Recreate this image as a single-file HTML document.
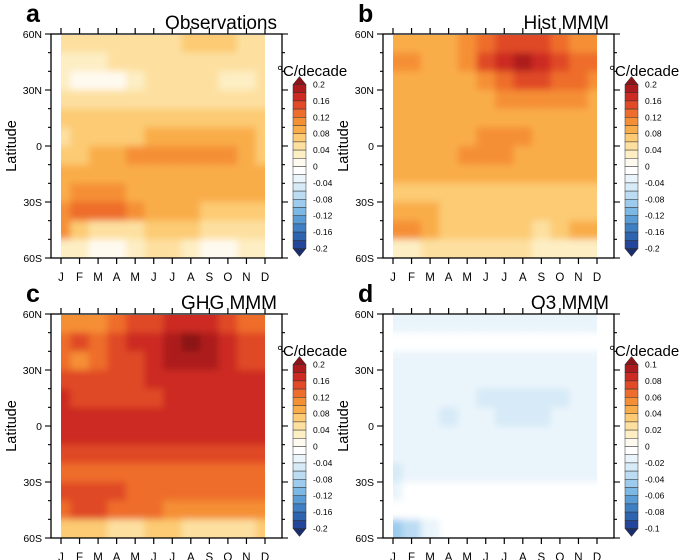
<!DOCTYPE html>
<html><head><meta charset="utf-8"><style>
html,body{margin:0;padding:0;background:#fff;}
svg{display:block;font-family:"Liberation Sans",sans-serif;}
</style></head><body>
<svg id="fig" width="685" height="560" viewBox="0 0 685 560" xmlns="http://www.w3.org/2000/svg">
<defs>
<filter id="soft" x="0" y="0" width="1" height="1"><feGaussianBlur stdDeviation="3.5" edgeMode="duplicate"/></filter>
<clipPath id="dataclip"><rect x="61" y="35" width="204" height="223"/></clipPath>
</defs>
</svg>
<script>
const months=["J","F","M","A","M","J","J","A","S","O","N","D"];
const lats=[55,45,35,25,15,5,-5,-15,-25,-35,-45,-55];
const latTicks=["60N","30N","0","30S","60S"];
const cbLabelsMain=["0.2","0.16","0.12","0.08","0.04","0","-0.04","-0.08","-0.12","-0.16","-0.2"];
const cbLabelsO3=["0.1","0.08","0.06","0.04","0.02","0","-0.02","-0.04","-0.06","-0.08","-0.1"];
const obsValues=[
[0.04,0.04,0.04,0.04,0.05,0.05,0.05,0.07,0.07,0.06,0.05,0.05],
[0.03,0.03,0.03,0.04,0.05,0.05,0.05,0.05,0.05,0.04,0.05,0.05],
[0.03,0.01,0.01,0.01,0.03,0.05,0.05,0.05,0.05,0.03,0.03,0.04],
[0.05,0.05,0.05,0.05,0.05,0.05,0.05,0.05,0.05,0.05,0.05,0.05],
[0.07,0.07,0.07,0.07,0.07,0.07,0.07,0.07,0.07,0.07,0.07,0.07],
[0.05,0.07,0.07,0.07,0.07,0.09,0.09,0.09,0.09,0.09,0.09,0.07],
[0.07,0.07,0.09,0.09,0.11,0.11,0.11,0.11,0.11,0.11,0.09,0.07],
[0.09,0.09,0.09,0.09,0.09,0.09,0.09,0.09,0.09,0.09,0.09,0.09],
[0.09,0.11,0.11,0.11,0.09,0.09,0.09,0.09,0.09,0.09,0.09,0.09],
[0.11,0.13,0.13,0.13,0.11,0.09,0.09,0.09,0.07,0.07,0.07,0.07],
[0.11,0.07,0.05,0.05,0.05,0.07,0.07,0.07,0.05,0.05,0.05,0.05],
[0.03,0.03,0.01,0.01,0.03,0.05,0.05,0.03,0.01,0.01,0.03,0.03]];
const histValues=[
[0.09,0.09,0.09,0.09,0.11,0.13,0.15,0.15,0.15,0.13,0.11,0.11],
[0.11,0.11,0.09,0.09,0.11,0.15,0.17,0.19,0.17,0.15,0.13,0.13],
[0.09,0.09,0.09,0.09,0.09,0.11,0.13,0.15,0.15,0.13,0.13,0.11],
[0.09,0.09,0.09,0.09,0.09,0.09,0.11,0.11,0.11,0.11,0.11,0.09],
[0.09,0.09,0.09,0.09,0.09,0.09,0.09,0.09,0.09,0.09,0.09,0.09],
[0.09,0.09,0.09,0.09,0.09,0.11,0.11,0.11,0.09,0.09,0.09,0.09],
[0.09,0.09,0.09,0.09,0.11,0.11,0.11,0.09,0.09,0.09,0.09,0.09],
[0.09,0.09,0.09,0.09,0.09,0.09,0.09,0.09,0.09,0.09,0.09,0.09],
[0.07,0.07,0.07,0.07,0.07,0.07,0.07,0.07,0.07,0.07,0.07,0.07],
[0.09,0.09,0.09,0.07,0.07,0.07,0.07,0.07,0.07,0.07,0.07,0.07],
[0.11,0.11,0.09,0.07,0.07,0.07,0.07,0.07,0.05,0.07,0.09,0.09],
[0.03,0.03,0.05,0.05,0.05,0.05,0.05,0.05,0.03,0.03,0.03,0.03]];
const ghgValues=[
[0.11,0.11,0.11,0.13,0.15,0.15,0.17,0.17,0.17,0.15,0.13,0.13],
[0.13,0.15,0.13,0.15,0.17,0.17,0.19,0.21,0.19,0.17,0.15,0.15],
[0.13,0.11,0.13,0.15,0.15,0.17,0.19,0.19,0.19,0.17,0.15,0.15],
[0.15,0.15,0.15,0.15,0.15,0.17,0.17,0.17,0.17,0.17,0.17,0.17],
[0.17,0.15,0.15,0.15,0.15,0.15,0.17,0.17,0.17,0.17,0.17,0.17],
[0.17,0.17,0.17,0.17,0.17,0.17,0.17,0.17,0.17,0.17,0.17,0.17],
[0.17,0.17,0.17,0.17,0.17,0.17,0.17,0.17,0.17,0.17,0.17,0.17],
[0.15,0.15,0.15,0.15,0.15,0.15,0.15,0.15,0.15,0.15,0.15,0.15],
[0.13,0.13,0.13,0.13,0.13,0.13,0.13,0.13,0.13,0.13,0.13,0.13],
[0.15,0.15,0.15,0.15,0.13,0.13,0.13,0.13,0.13,0.13,0.13,0.13],
[0.13,0.15,0.15,0.13,0.13,0.13,0.11,0.11,0.11,0.11,0.11,0.11],
[0.07,0.07,0.07,0.05,0.05,0.07,0.07,0.05,0.05,0.05,0.05,0.07]];
const o3Values=[
[-0.015,-0.015,-0.015,-0.015,-0.015,-0.015,-0.015,-0.015,-0.015,-0.015,-0.015,-0.015],
[-0.005,-0.005,-0.005,-0.005,-0.005,-0.005,-0.005,-0.005,-0.005,-0.005,-0.005,-0.005],
[-0.015,-0.015,-0.015,-0.015,-0.015,-0.015,-0.015,-0.015,-0.015,-0.015,-0.015,-0.015],
[-0.015,-0.015,-0.015,-0.015,-0.015,-0.015,-0.015,-0.015,-0.015,-0.015,-0.015,-0.015],
[-0.015,-0.015,-0.015,-0.015,-0.015,-0.025,-0.025,-0.025,-0.025,-0.025,-0.015,-0.015],
[-0.015,-0.015,-0.015,-0.025,-0.015,-0.015,-0.025,-0.025,-0.025,-0.015,-0.015,-0.015],
[-0.015,-0.015,-0.015,-0.015,-0.015,-0.015,-0.015,-0.015,-0.015,-0.015,-0.015,-0.015],
[-0.015,-0.015,-0.015,-0.015,-0.015,-0.015,-0.015,-0.015,-0.015,-0.015,-0.015,-0.015],
[-0.025,-0.015,-0.015,-0.015,-0.015,-0.015,-0.015,-0.015,-0.015,-0.015,-0.015,-0.015],
[-0.015,-0.005,-0.005,-0.005,-0.005,-0.005,-0.005,-0.005,-0.005,-0.005,-0.005,-0.005],
[-0.005,-0.005,-0.005,-0.005,-0.005,-0.005,-0.005,-0.005,-0.005,-0.005,-0.005,-0.005],
[-0.045,-0.035,-0.015,-0.005,-0.005,-0.005,-0.005,-0.005,-0.005,-0.005,-0.005,-0.005]];

const colors=["#1a2e6e","#24469a","#2e63b0","#3f80c4","#5a9dd6","#7cb8e4","#9ccbee","#bbdcf3","#d6eaf7","#eaf4fb","#ffffff",
"#fffaf0","#fdeec4","#fde0a0","#fccb73","#f9ad4a","#f58f36","#ee6d2c","#e04a26","#cc2a22","#ad1a1e","#8a1418"];
const NS="http://www.w3.org/2000/svg";
const svg=document.getElementById("fig");
function mk(tag,attrs,parent){const e=document.createElementNS(NS,tag);for(const k in attrs)e.setAttribute(k,attrs[k]);(parent||svg).appendChild(e);return e;}
function colorFor(v,step){let i=Math.floor(v/step+1e-9)+11;return colors[Math.max(0,Math.min(21,i))];}

const panels=[
 {letter:"a",title:"Observations",vals:obsValues,step:0.02,cb:cbLabelsMain,dx:0,dy:0,name:"observations"},
 {letter:"b",title:"Hist MMM",vals:histValues,step:0.02,cb:cbLabelsMain,dx:332,dy:0,name:"hist-mmm"},
 {letter:"c",title:"GHG MMM",vals:ghgValues,step:0.02,cb:cbLabelsMain,dx:0,dy:280,name:"ghg-mmm"},
 {letter:"d",title:"O3 MMM",vals:o3Values,step:0.01,cb:cbLabelsO3,dx:332,dy:280,name:"o3-mmm"}];

panels.forEach(p=>{
 const g=mk("g",{transform:`translate(${p.dx},${p.dy})`});
 
 
 const x=m=>61+m*(204/11);
 const y=lat=>146-lat*(112/60);
 const clipG=mk("g",{"clip-path":"url(#dataclip)"},g);
 const cells=mk("g",{filter:"url(#soft)"},clipG);
 
 
 p.vals.forEach((row,r)=>{row.forEach((v,c)=>{
   const x0=x(c-0.5),x1=x(c+0.5);
   let y0=y(lats[r]+5),y1=y(lats[r]-5);
   if(r===0)y0-=8; if(r===lats.length-1)y1+=8;
   const ex0=c===0?x0-8:x0, ex1=c===11?x1+8:x1;
   const rc=mk("rect",{x:ex0,y:y0,width:ex1-ex0+0.6,height:y1-y0+0.6,fill:colorFor(v,p.step)},cells);
   
   
 });});
 const fr=mk("rect",{x:51,y:34,width:231,height:224,fill:"none",stroke:"#000","stroke-width":1.3},g);
 
 
 months.forEach((m,i)=>{
   mk("line",{x1:x(i),x2:x(i),y1:34,y2:28,stroke:"#000","stroke-width":1.2},g);
   mk("line",{x1:x(i),x2:x(i),y1:258,y2:264,stroke:"#000","stroke-width":1.2},g);
   const t=mk("text",{x:x(i),y:281,"font-size":11.5,"text-anchor":"middle"},g);t.textContent=m;
   
   
 });
 for(let lat=60;lat>=-60;lat-=10){
   const major=lat%30===0;const L=major?6:3;
   mk("line",{x1:51,x2:51-L,y1:y(lat),y2:y(lat),stroke:"#000","stroke-width":1.1},g);
   mk("line",{x1:282,x2:282+L,y1:y(lat),y2:y(lat),stroke:"#000","stroke-width":1.1},g);
 }
 latTicks.forEach((lb,i)=>{
   const t=mk("text",{x:42,y:y(60-30*i)+4,"font-size":10.5,"text-anchor":"end"},g);t.textContent=lb;
   
   
 });
 const yl=mk("text",{x:16,y:146,"font-size":14.5,"text-anchor":"middle",transform:"rotate(-90 16 146)"},g);yl.textContent="Latitude";
 
 
 const lt=mk("text",{x:26,y:22,"font-size":25,"font-weight":"bold"},g);lt.textContent=p.letter;
 
 
 const tt=mk("text",{x:277,y:29,"font-size":19,"text-anchor":"end"},g);tt.textContent=p.title;
 
 
 const ut=mk("text",{x:277,y:76,"font-size":15},g);ut.textContent="°C/decade";
 
 
 const cb=mk("g",{},g);
 
 
 const top=84.5,bh=8.2,cx0=293,cw=13;
 for(let k=0;k<20;k++){
   const ci=20-k;
   mk("rect",{x:cx0,y:top+k*bh,width:cw,height:bh,fill:colors[ci],stroke:"#333","stroke-width":0.5},cb);
 }
 mk("polygon",{points:`${cx0},${top} ${cx0+cw},${top} ${cx0+cw/2},${top-8}`,fill:colors[21],stroke:"#333","stroke-width":0.5},cb);
 const bot=top+20*bh;
 mk("polygon",{points:`${cx0},${bot} ${cx0+cw},${bot} ${cx0+cw/2},${bot+8}`,fill:colors[0],stroke:"#333","stroke-width":0.5},cb);
 p.cb.forEach((lb,i)=>{
   const t=mk("text",{x:313,y:top+i*2*bh+3,"font-size":8.5},cb);t.textContent=lb;
   
   
 });
});
</script>
</body></html>
